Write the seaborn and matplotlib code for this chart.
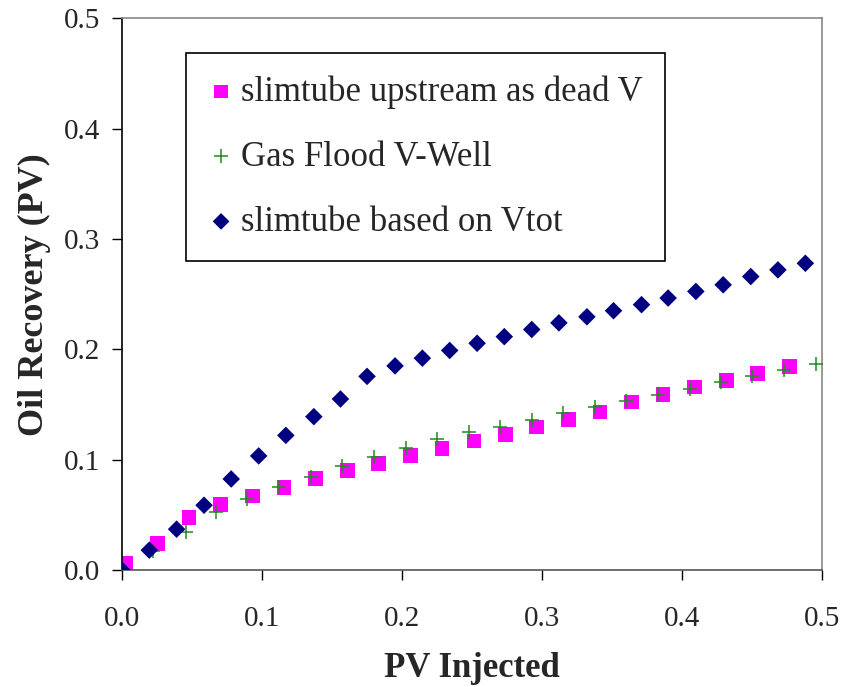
import numpy as np
import matplotlib
matplotlib.use("Agg")
import matplotlib.pyplot as plt
import seaborn as sns
import pandas as pd

# slimtube upstream as dead V (squares)
sq_x = [0.003, 0.0255, 0.048, 0.0705, 0.0933, 0.1157, 0.138, 0.161, 0.1833, 0.206, 0.2286,
        0.2514, 0.274, 0.296, 0.319, 0.3414, 0.364, 0.3864, 0.409, 0.4316, 0.454, 0.4767]
sq_y = [0.006, 0.024, 0.0478, 0.0595, 0.067, 0.075, 0.083, 0.090, 0.0967, 0.104, 0.110,
        0.1168, 0.123, 0.1296, 0.1366, 0.1433, 0.1524, 0.159, 0.166, 0.172, 0.178, 0.1845]

# Gas Flood V-Well (plus)
gf_x = [0.0224, 0.0455, 0.067, 0.0895, 0.1124, 0.1348, 0.157, 0.180, 0.203, 0.2252, 0.2476,
        0.270, 0.2926, 0.315, 0.338, 0.360, 0.383, 0.4055, 0.428, 0.450, 0.473, 0.4957]
gf_y = [0.0175, 0.0344, 0.0528, 0.0646, 0.075, 0.0843, 0.0943, 0.102, 0.1107, 0.1187, 0.1254,
        0.130, 0.136, 0.142, 0.1475, 0.153, 0.159, 0.1645, 0.170, 0.176, 0.181, 0.187]

# slimtube based on Vtot (diamonds)
vt_x = [0.0, 0.0195, 0.039, 0.0586, 0.078, 0.0976, 0.117, 0.137, 0.156, 0.175, 0.195, 0.2145,
        0.234, 0.2536, 0.273, 0.2926, 0.312, 0.332, 0.351, 0.371, 0.390, 0.4098, 0.4293,
        0.449, 0.4684, 0.488]
vt_y = [0.0, 0.018, 0.037, 0.0587, 0.0825, 0.1034, 0.122, 0.139, 0.155, 0.1755, 0.185, 0.192,
        0.199, 0.2055, 0.2115, 0.218, 0.224, 0.2295, 0.235, 0.2405, 0.2465, 0.2525, 0.2585,
        0.266, 0.272, 0.278]

sns.set_style("white")
plt.rcParams['font.family'] = ['Liberation Serif', 'DejaVu Serif']

fig = plt.figure(figsize=(8.43, 6.87), dpi=100)
ax = fig.add_axes([0.1447, 0.1703, 0.8306, 0.8030])

sns.scatterplot(x=sq_x, y=sq_y, ax=ax, marker='s', s=110, color='#FF00FF',
                edgecolor='none', label='slimtube upstream as dead V', zorder=2)
sns.scatterplot(x=gf_x, y=gf_y, ax=ax, marker='+', s=110, color='#1E8C1E',
                linewidth=1.1, label='Gas Flood V-Well', zorder=3)
sns.scatterplot(x=vt_x, y=vt_y, ax=ax, marker='D', s=80, color='#000080',
                edgecolor='none', label='slimtube based on Vtot', zorder=4)

ax.set_xlim(0, 0.5)
ax.set_ylim(0, 0.5)
ax.set_xticks(np.arange(0, 0.51, 0.1))
ax.set_yticks(np.arange(0, 0.51, 0.1))
ax.xaxis.set_major_formatter(matplotlib.ticker.FormatStrFormatter('%.1f'))
ax.yaxis.set_major_formatter(matplotlib.ticker.FormatStrFormatter('%.1f'))
ax.tick_params(axis='both', direction='out', length=7, width=1, color='black',
               labelsize=21, bottom=True, left=True)
ax.tick_params(axis='x', pad=19)
ax.tick_params(axis='y', pad=9)

ax.spines['left'].set_color('black')
ax.spines['bottom'].set_color('#555555')
ax.spines['top'].set_color('#888888')
ax.spines['right'].set_color('#888888')
for sp in ax.spines.values():
    sp.set_linewidth(1.2)

ax.set_xlabel('PV Injected', fontsize=25, fontweight='bold', labelpad=14)
ax.set_ylabel('Oil Recovery (PV)', fontsize=26, fontweight='bold', labelpad=9)

leg = ax.legend(loc='upper left', bbox_to_anchor=(0.0914, 0.938), borderaxespad=0,
                fontsize=25, frameon=True, fancybox=False, edgecolor='black',
                framealpha=1, labelspacing=0.92, handletextpad=0.215, handlelength=0.72,
                borderpad=0.65, markerscale=0.95)
leg.get_frame().set_linewidth(1.2)

plt.savefig('out.png', dpi=100)
